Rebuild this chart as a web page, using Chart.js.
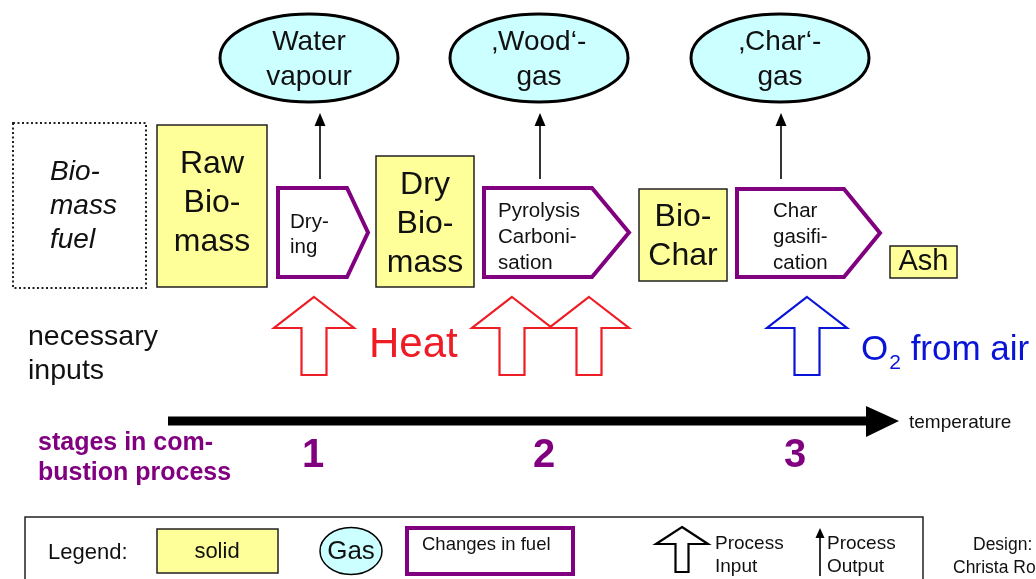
<!DOCTYPE html>
<html>
<head>
<meta charset="utf-8">
<title>Stages in biomass combustion</title>
<script src="https://cdn.jsdelivr.net/npm/chart.js@4/dist/chart.umd.min.js"></script>
<style>
  html, body { margin: 0; padding: 0; background: #fff; }
  #chart { display: block; }
</style>
</head>
<body>
<canvas id="chart" width="1036" height="579"></canvas>
<script>
// ---- content of the diagram ----
var fuelLabel = 'Bio-\nmass\nfuel';
var solids = ['Raw\nBio-\nmass', 'Dry\nBio-\nmass', 'Bio-\nChar', 'Ash'];
var gases = ['Water\nvapour', '\u201AWood\u2018-\ngas', '\u201AChar\u2018-\ngas'];
var processes = ['Dry-\ning', 'Pyrolysis\nCarboni-\nsation', 'Char\ngasifi-\ncation'];
var stages = ['1', '2', '3'];
var inputLabels = ['Heat', 'O', '2', ' from air'];
var rowLabels = ['necessary\ninputs', 'stages in com-\nbustion process'];
var axisLabel = 'temperature';
var legendLabels = ['Legend:', 'solid', 'Gas', 'Changes in fuel', 'Process\nInput', 'Process\nOutput'];
var credit = 'Design:\nChrista Ro';

// ---- layout (diagram units = px of the 1036x579 sheet) ----
var fuelBox = [13, 123, 146, 288];
var solidBoxes = [[157, 125, 267, 287], [376, 156, 474, 287], [639, 189, 727, 281], [890, 246, 957, 278]];
var solidTextY = [164, 185, 217, 262];
var solidFont = [32, 32, 32, 29];
var gasEllipses = [[309, 58], [539, 58], [780, 58]];
var procShapes = [[278, 188, 347, 368, 277], [484, 188, 592, 629, 277], [737, 189, 844, 880, 277]];
var procTextPos = [[290, 222], [498, 211], [773, 211]];
var outputX = [320, 540, 781];
var heatX = [314, 512, 589];
var airX = [807];
var stageX = [313, 544, 795];
var tempAxis = [{ x: 168, y: 421 }, { x: 870, y: 421 }];

var FONT = "'Liberation Sans', Arial, Helvetica, sans-serif";
var YELLOW = '#ffff99';
var CYAN = '#ccffff';
var PURPLE = '#800080';
var RED = '#ee1c24';
var BLUE = '#0a14d8';
var TEXT = '#111';

var diagram = {
  id: 'diagram',
  afterDraw: function(chart) {
    var ctx = chart.ctx;
    var sx = chart.scales.x, sy = chart.scales.y;
    function X(v) { return sx.getPixelForValue(v); }
    function Y(v) { return sy.getPixelForValue(v); }

    function text(str, x, y, lh, size, color, opts) {
      opts = opts || {};
      ctx.save();
      ctx.font = (opts.style || '') + ' ' + size + 'px ' + FONT;
      ctx.fillStyle = color;
      ctx.textAlign = opts.align || 'left';
      ctx.textBaseline = opts.baseline || 'middle';
      str.split('\n').forEach(function(t, i) {
        ctx.fillText(t, X(x), Y(y + i * lh));
      });
      ctx.restore();
    }

    function rect(b, fill, stroke, lw, dash) {
      ctx.save();
      ctx.beginPath();
      ctx.rect(X(b[0]), Y(b[1]), X(b[2]) - X(b[0]), Y(b[3]) - Y(b[1]));
      if (fill) { ctx.fillStyle = fill; ctx.fill(); }
      if (dash) ctx.setLineDash(dash);
      ctx.lineWidth = lw; ctx.strokeStyle = stroke; ctx.stroke();
      ctx.restore();
    }

    function ellipse(cx, cy, rx, ry, lw) {
      ctx.save();
      ctx.beginPath();
      ctx.ellipse(X(cx), Y(cy), X(cx + rx) - X(cx), Y(cy + ry) - Y(cy), 0, 0, Math.PI * 2);
      ctx.fillStyle = CYAN; ctx.fill();
      ctx.lineWidth = lw; ctx.strokeStyle = '#000'; ctx.stroke();
      ctx.restore();
    }

    function pentagon(s, lw) {
      var mid = (s[1] + s[4]) / 2;
      ctx.save();
      ctx.beginPath();
      ctx.moveTo(X(s[0]), Y(s[1]));
      ctx.lineTo(X(s[2]), Y(s[1]));
      ctx.lineTo(X(s[3]), Y(mid));
      ctx.lineTo(X(s[2]), Y(s[4]));
      ctx.lineTo(X(s[0]), Y(s[4]));
      ctx.closePath();
      ctx.fillStyle = '#fff'; ctx.fill();
      ctx.lineJoin = 'miter';
      ctx.lineWidth = lw; ctx.strokeStyle = PURPLE; ctx.stroke();
      ctx.restore();
    }

    function blockArrow(cx, top, shoulder, bottom, head, shaft, color, lw) {
      ctx.save();
      ctx.beginPath();
      ctx.moveTo(X(cx), Y(top));
      ctx.lineTo(X(cx + head), Y(shoulder));
      ctx.lineTo(X(cx + shaft), Y(shoulder));
      ctx.lineTo(X(cx + shaft), Y(bottom));
      ctx.lineTo(X(cx - shaft), Y(bottom));
      ctx.lineTo(X(cx - shaft), Y(shoulder));
      ctx.lineTo(X(cx - head), Y(shoulder));
      ctx.closePath();
      ctx.lineJoin = 'miter';
      ctx.lineWidth = lw; ctx.strokeStyle = color; ctx.stroke();
      ctx.restore();
    }

    function lineArrow(x, top, bottom, headLen, headHalf) {
      ctx.save();
      ctx.beginPath();
      ctx.moveTo(X(x), Y(bottom));
      ctx.lineTo(X(x), Y(top + headLen));
      ctx.lineWidth = 1.6; ctx.strokeStyle = '#000'; ctx.stroke();
      ctx.beginPath();
      ctx.moveTo(X(x), Y(top));
      ctx.lineTo(X(x + headHalf), Y(top + headLen));
      ctx.lineTo(X(x - headHalf), Y(top + headLen));
      ctx.closePath();
      ctx.fillStyle = '#000'; ctx.fill();
      ctx.restore();
    }

    // gases and process outputs
    gasEllipses.forEach(function(g, i) {
      ellipse(g[0], g[1], 89, 44, 3);
      text(gases[i], g[0], 42, 35, 28, TEXT, { align: 'center' });
    });
    outputX.forEach(function(x) { lineArrow(x, 113, 179, 13, 5.5); });

    // fuel and solids
    rect(fuelBox, null, '#222', 2, [2, 2.5]);
    text(fuelLabel, 50, 172, 34, 28, TEXT, { style: 'italic' });
    solidBoxes.forEach(function(b, i) {
      rect(b, YELLOW, '#222', 1.5);
      text(solids[i], (b[0] + b[2]) / 2, solidTextY[i], 39, solidFont[i], TEXT, { align: 'center' });
    });

    // changes in fuel
    procShapes.forEach(function(s, i) {
      pentagon(s, 4);
      var lh = i === 0 ? 25 : 26;
      text(processes[i], procTextPos[i][0], procTextPos[i][1], lh, 20.5, TEXT);
    });

    // necessary inputs
    text(rowLabels[0], 28, 337, 34, 28.5, TEXT);
    heatX.forEach(function(x) { blockArrow(x, 297, 328, 375, 40, 12.5, RED, 2.2); });
    text(inputLabels[0], 369, 357, 0, 42, RED, { baseline: 'alphabetic' });
    airX.forEach(function(x) { blockArrow(x, 297, 328, 375, 40, 12.5, BLUE, 2.2); });
    ctx.save();
    ctx.font = '35px ' + FONT;
    var oW = ctx.measureText(inputLabels[1]).width;
    ctx.font = '21px ' + FONT;
    var subW = ctx.measureText(inputLabels[2]).width;
    ctx.restore();
    text(inputLabels[1], 861, 360, 0, 35, BLUE, { baseline: 'alphabetic' });
    text(inputLabels[2], 861 + oW + 1, 369, 0, 21, BLUE, { baseline: 'alphabetic' });
    text(inputLabels[3], 861 + oW + subW + 1, 360, 0, 35, BLUE, { baseline: 'alphabetic' });

    // temperature axis head
    var ax = tempAxis[1];
    ctx.save();
    ctx.beginPath();
    ctx.moveTo(X(ax.x - 4), Y(ax.y - 15));
    ctx.lineTo(X(ax.x + 29), Y(ax.y));
    ctx.lineTo(X(ax.x - 4), Y(ax.y + 16));
    ctx.closePath();
    ctx.fillStyle = '#000'; ctx.fill();
    ctx.restore();
    text(axisLabel, 909, 423, 0, 19, TEXT);

    // stages
    text(rowLabels[1], 38, 443, 30, 25, PURPLE, { style: 'bold' });
    stages.forEach(function(s, i) {
      text(s, stageX[i], 456, 0, 40, PURPLE, { style: 'bold', align: 'center' });
    });

    // legend
    rect([25, 517, 923, 600], null, '#222', 1.5);
    text(legendLabels[0], 48, 553, 0, 22, TEXT);
    rect([157, 529, 278, 573], YELLOW, '#222', 1.5);
    text(legendLabels[1], 217, 552, 0, 22, TEXT, { align: 'center' });
    ellipse(351, 551, 31, 23.5, 1.5);
    text(legendLabels[2], 351, 552, 0, 26, TEXT, { align: 'center' });
    rect([407, 528, 573, 574], '#fff', PURPLE, 4);
    text(legendLabels[3], 422, 545, 0, 18.5, TEXT);
    blockArrow(682, 527, 544, 572, 26, 6.5, '#000', 2.2);
    text(legendLabels[4], 715, 544, 23, 19, TEXT);
    lineArrow(820, 528, 576, 10, 4.5);
    text(legendLabels[5], 827, 544, 23, 19, TEXT);
    text(credit.split('\n')[0], 973, 545, 0, 17.5, TEXT);
    text(credit.split('\n')[1], 953, 568, 0, 17.5, TEXT);
  }
};

var chart = new Chart(document.getElementById('chart'), {
  type: 'scatter',
  data: {
    datasets: [{
      type: 'line',
      label: axisLabel,
      data: tempAxis,
      borderColor: '#000',
      borderWidth: 9,
      borderCapStyle: 'butt',
      pointRadius: 0,
      showLine: true
    }]
  },
  options: {
    responsive: false,
    animation: false,
    layout: { padding: 0 },
    plugins: {
      legend: { display: false },
      tooltip: { enabled: false }
    },
    scales: {
      x: { type: 'linear', min: 0, max: 1036, display: false },
      y: { type: 'linear', min: 0, max: 579, reverse: true, display: false }
    }
  },
  plugins: [diagram]
});
</script>
</body>
</html>
